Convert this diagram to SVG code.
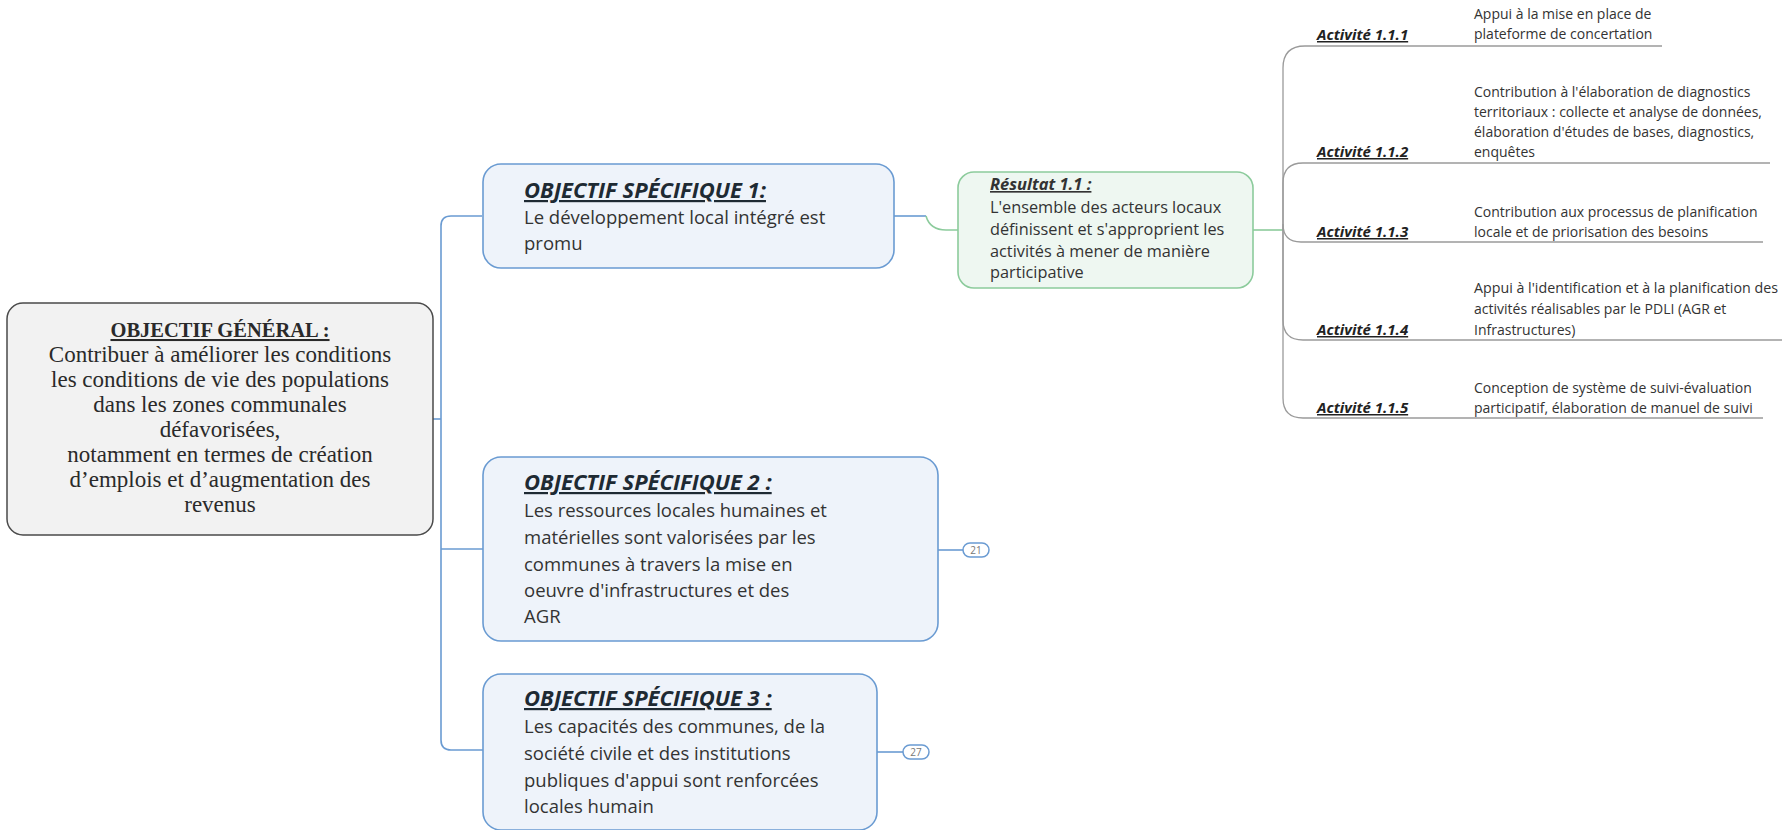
<svg xmlns="http://www.w3.org/2000/svg" width="1782" height="830" viewBox="0 0 1782 830">
<style>
.gen{fill:#f2f2f2;stroke:#4a4a4a;stroke-width:1.5}
.os{fill:#eef3fa;stroke:#6a9bd2;stroke-width:1.6}
.res{fill:#eef7f1;stroke:#8ccb9c;stroke-width:1.6}
.blue{fill:none;stroke:#6a9bd2;stroke-width:1.6}
.green{fill:none;stroke:#8ccb9c;stroke-width:1.6}
.gray{fill:none;stroke:#9a9a9a;stroke-width:1.3}
.serif{font-family:"Liberation Serif",serif;font-size:23px;fill:#2a2a2a;text-anchor:middle}
.serifT{font-family:"Liberation Serif",serif;font-size:20.5px;font-weight:bold;fill:#2a2a2a;text-anchor:middle;text-decoration:underline}
.osT{font-family:"Open Sans",sans-serif;font-size:22px;font-weight:bold;font-style:italic;fill:#1e2a33;text-decoration:underline}
.osB{font-family:"Open Sans",sans-serif;font-size:18.5px;fill:#333}
.resT{font-family:"Open Sans",sans-serif;font-size:16.5px;font-weight:bold;font-style:italic;fill:#333;text-decoration:underline}
.resB{font-family:"Open Sans",sans-serif;font-size:16.3px;fill:#333}
.actT{font-family:"Open Sans",sans-serif;font-size:15px;font-weight:bold;font-style:italic;fill:#222;text-decoration:underline}
.actB{font-family:"Open Sans",sans-serif;font-size:14px;fill:#333}
.badge{fill:#fff;stroke:#6a9bd2;stroke-width:1.5}
.badgeT{font-family:"Open Sans",sans-serif;font-size:10px;fill:#777;text-anchor:middle}
</style>
<rect width="1782" height="830" fill="#ffffff"/>
<g id="connectors">
  <path class="blue" d="M433,419 H441"/>
  <path class="blue" d="M482,216 H451 Q441,216 441,226 V740 Q441,750 451,750 H483"/>
  <path class="blue" d="M441,549 H483"/>
  <path class="blue" d="M894,216 H926"/>
  <path class="green" d="M926,216 Q930,230 946,230 H958"/>
  <path class="green" d="M1253,230 H1283"/>
  <path class="blue" d="M938,550 H963"/>
  <path class="blue" d="M877,752 H903"/>
  <path class="gray" d="M1283,230 V68 Q1283,46 1305,46 H1662"/>
  <path class="gray" d="M1283,230 V183 Q1283,163 1303,163 H1770"/>
  <path class="gray" d="M1283,230 V224 Q1283,242 1301,242 H1763"/>
  <path class="gray" d="M1283,230 V320 Q1283,340 1303,340 H1782"/>
  <path class="gray" d="M1283,230 V398 Q1283,418 1303,418 H1763"/>
</g>
<g id="objectif-general">
  <rect class="gen" x="7" y="303" width="426" height="232" rx="16"/>
  <text class="serifT" x="220" y="337">OBJECTIF GÉNÉRAL :</text>
  <text class="serif" x="220" y="362">Contribuer à améliorer les conditions</text>
  <text class="serif" x="220" y="387">les conditions de vie des populations</text>
  <text class="serif" x="220" y="412">dans les zones communales</text>
  <text class="serif" x="220" y="437">défavorisées,</text>
  <text class="serif" x="220" y="462">notamment en termes de création</text>
  <text class="serif" x="220" y="487">d’emplois et d’augmentation des</text>
  <text class="serif" x="220" y="512">revenus</text>
</g>
<g id="os1">
  <rect class="os" x="483" y="164" width="411" height="104" rx="18"/>
  <text class="osT" x="524" y="198">OBJECTIF SPÉCIFIQUE 1:</text>
  <text class="osB" x="524" y="224">Le développement local intégré est</text>
  <text class="osB" x="524" y="250">promu</text>
</g>
<g id="os2">
  <rect class="os" x="483" y="457" width="455" height="184" rx="18"/>
  <text class="osT" x="524" y="490">OBJECTIF SPÉCIFIQUE 2 :</text>
  <text class="osB" x="524" y="517">Les ressources locales humaines et</text>
  <text class="osB" x="524" y="544">matérielles sont valorisées par les</text>
  <text class="osB" x="524" y="571">communes à travers la mise en</text>
  <text class="osB" x="524" y="597">oeuvre d'infrastructures et des</text>
  <text class="osB" x="524" y="623">AGR</text>
</g>
<g id="badge21">
  <rect class="badge" x="963" y="543" width="26" height="14" rx="7"/>
  <text class="badgeT" x="976" y="554">21</text>
</g>
<g id="os3">
  <rect class="os" x="483" y="674" width="394" height="156" rx="18"/>
  <text class="osT" x="524" y="706">OBJECTIF SPÉCIFIQUE 3 :</text>
  <text class="osB" x="524" y="733">Les capacités des communes, de la</text>
  <text class="osB" x="524" y="760">société civile et des institutions</text>
  <text class="osB" x="524" y="787">publiques d'appui sont renforcées</text>
  <text class="osB" x="524" y="813">locales humain</text>
</g>
<g id="badge27">
  <rect class="badge" x="903" y="745" width="26" height="14" rx="7"/>
  <text class="badgeT" x="916" y="756">27</text>
</g>
<g id="resultat11">
  <rect class="res" x="958" y="172" width="295" height="116" rx="16"/>
  <text class="resT" x="990" y="190">Résultat 1.1 :</text>
  <text class="resB" x="990" y="213">L'ensemble des acteurs locaux</text>
  <text class="resB" x="990" y="235">définissent et s'approprient les</text>
  <text class="resB" x="990" y="257">activités à mener de manière</text>
  <text class="resB" x="990" y="278">participative</text>
</g>
<g id="activite111">
  <text class="actT" x="1317" y="40">Activité 1.1.1</text>
  <text class="actB" x="1474" y="19">Appui à la mise en place de</text>
  <text class="actB" x="1474" y="39">plateforme de concertation</text>
</g>
<g id="activite112">
  <text class="actT" x="1317" y="157">Activité 1.1.2</text>
  <text class="actB" x="1474" y="97">Contribution à l'élaboration de diagnostics</text>
  <text class="actB" x="1474" y="117">territoriaux : collecte et analyse de données,</text>
  <text class="actB" x="1474" y="137">élaboration d'études de bases, diagnostics,</text>
  <text class="actB" x="1474" y="157">enquêtes</text>
</g>
<g id="activite113">
  <text class="actT" x="1317" y="237">Activité 1.1.3</text>
  <text class="actB" x="1474" y="217">Contribution aux processus de planification</text>
  <text class="actB" x="1474" y="237">locale et de priorisation des besoins</text>
</g>
<g id="activite114">
  <text class="actT" x="1317" y="335">Activité 1.1.4</text>
  <text class="actB" x="1474" y="293" textLength="304" lengthAdjust="spacingAndGlyphs">Appui à l'identification et à la planification des</text>
  <text class="actB" x="1474" y="314">activités réalisables par le PDLI (AGR et</text>
  <text class="actB" x="1474" y="335">Infrastructures)</text>
</g>
<g id="activite115">
  <text class="actT" x="1317" y="413">Activité 1.1.5</text>
  <text class="actB" x="1474" y="393">Conception de système de suivi-évaluation</text>
  <text class="actB" x="1474" y="413">participatif, élaboration de manuel de suivi</text>
</g>
</svg>
